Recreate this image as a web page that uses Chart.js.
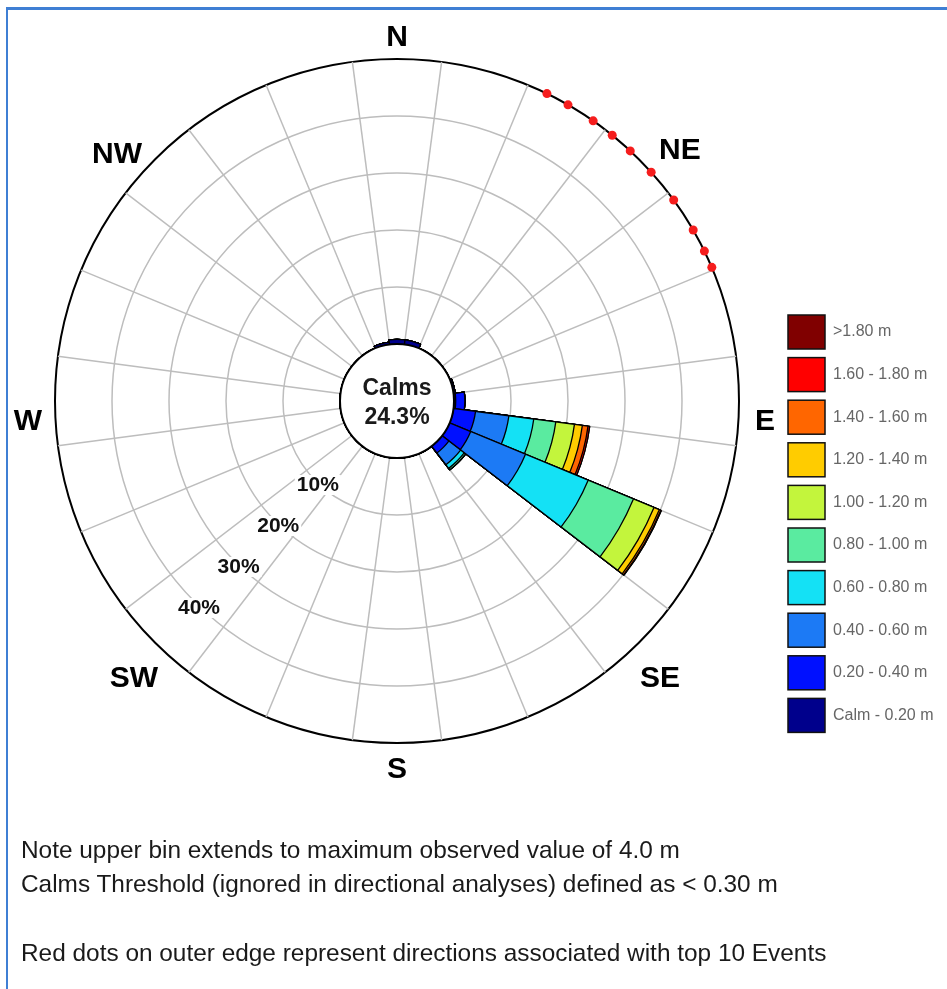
<!DOCTYPE html>
<html>
<head>
<meta charset="utf-8">
<script src="https://cdn.jsdelivr.net/npm/chart.js@4.4.1/dist/chart.umd.min.js"></script>
<style>
  html, body { margin: 0; padding: 0; background: #fff; }
  body { width: 947px; height: 989px; position: relative; overflow: hidden; font-family: 'Liberation Sans', Arial, sans-serif; }
  .frame { position: absolute; left: 6px; top: 7px; right: -10px; bottom: -10px; border-top: 3px solid #3f7fd4; border-left: 2px solid #3f7fd4; }
  #wrap { position: absolute; left: 0; top: 0; width: 947px; height: 989px; }
  .note { position: absolute; left: 21px; font-size: 24.4px; color: #1a1a1a; white-space: nowrap; }
</style>
</head>
<body>
<div class="frame"></div>
<div id="wrap"><canvas id="rose"></canvas></div>
<div class="note" style="top:836px">Note upper bin extends to maximum observed value of 4.0 m</div>
<div class="note" style="top:870px">Calms Threshold (ignored in directional analyses) defined as &lt; 0.30 m</div>
<div class="note" style="top:939px">Red dots on outer edge represent directions associated with top 10 Events</div>
<script>
// direction bins, 15 degrees wide, centred on these bearings
const directions = [0, 15, 30, 45, 60, 75, 90, 105, 120, 135, 150, 165,
                    180, 195, 210, 225, 240, 255, 270, 285, 300, 315, 330, 345];

const binLabels = ['Calm - 0.20 m', '0.20 - 0.40 m', '0.40 - 0.60 m', '0.60 - 0.80 m', '0.80 - 1.00 m',
                   '1.00 - 1.20 m', '1.20 - 1.40 m', '1.40 - 1.60 m', '1.60 - 1.80 m', '>1.80 m'];
const binColors = ['#00008c', '#0010ff', '#1c7af5', '#14e1f5', '#5aeba0',
                   '#c3f53c', '#ffcc00', '#ff6600', '#ff0000', '#800000'];

// percentage of records in each direction, one array per height bin
const hCalm020 = [0.8, 0.8, 0, 0, 0, 0.3, 0.3, 0, 0, 0, 0, 0, 0, 0, 0, 0, 0, 0, 0, 0, 0, 0, 0, 0.4];
const h020_040 = [0, 0, 0, 0, 0, 0, 1.6, 3.9, 4.0, 1.5, 0, 0, 0, 0, 0, 0, 0, 0, 0, 0, 0, 0, 0, 0];
const h040_060 = [0, 0, 0, 0, 0, 0, 0, 5.9, 10.4, 2.6, 0, 0, 0, 0, 0, 0, 0, 0, 0, 0, 0, 0, 0, 0];
const h060_080 = [0, 0, 0, 0, 0, 0, 0, 4.4, 11.9, 0.8, 0, 0, 0, 0, 0, 0, 0, 0, 0, 0, 0, 0, 0, 0];
const h080_100 = [0, 0, 0, 0, 0, 0, 0, 3.9, 8.6, 0.3, 0, 0, 0, 0, 0, 0, 0, 0, 0, 0, 0, 0, 0, 0];
const h100_120 = [0, 0, 0, 0, 0, 0, 0, 3.3, 3.9, 0, 0, 0, 0, 0, 0, 0, 0, 0, 0, 0, 0, 0, 0, 0];
const h120_140 = [0, 0, 0, 0, 0, 0, 0, 1.4, 1.0, 0, 0, 0, 0, 0, 0, 0, 0, 0, 0, 0, 0, 0, 0, 0];
const h140_160 = [0, 0, 0, 0, 0, 0, 0, 1.0, 0.3, 0, 0, 0, 0, 0, 0, 0, 0, 0, 0, 0, 0, 0, 0, 0];
const h160_180 = [0, 0, 0, 0, 0, 0, 0, 0.3, 0.1, 0, 0, 0, 0, 0, 0, 0, 0, 0, 0, 0, 0, 0, 0, 0];
const h180up   = [0, 0, 0, 0, 0, 0, 0, 0, 0, 0, 0, 0, 0, 0, 0, 0, 0, 0, 0, 0, 0, 0, 0, 0];

const calmsPct = 24.3;
const ringTicks = [10, 20, 30, 40];
const compassNames = ['N', 'NE', 'E', 'SE', 'S', 'SW', 'W', 'NW'];
const compassBearings = [0, 45, 90, 135, 180, 225, 270, 315];
// bearings of the top 10 events (red dots)
const topEventBearings = [26, 30, 35, 39, 43, 48, 54, 60, 64, 67];

// label placement (style only)
const compassPad = [21, 58, 26, 30, 27, 30, 27, 54];
const compassShift = [0, 33, 21, 15, 0, 15, 21, 34];
const tickLabelBearing = 224;

const FONT = "'Liberation Sans', Arial, sans-serif";

// stack the bins: each dataset holds the running total up to its bin
const bins = [hCalm020, h020_040, h040_060, h060_080, h080_100, h100_120, h120_140, h140_160, h160_180, h180up];
const datasets = [];
let running = directions.map(() => 0);
bins.forEach((bin, k) => {
    running = running.map((v, i) => v + bin[i]);
    datasets.push({
        label: binLabels[k],
        data: running.slice(),
        backgroundColor: binColors[k],
        borderColor: '#000',
        borderWidth: 1.3
    });
});

const roseDecor = {
    id: 'roseDecor',
    afterDatasetsDraw(chart) {
        const ctx = chart.ctx;
        const scale = chart.scales.r;
        const cx = scale.xCenter, cy = scale.yCenter;
        const at = (b, d) => {
            const a = (b - 90) * Math.PI / 180;
            return { x: cx + d * Math.cos(a), y: cy + d * Math.sin(a) };
        };
        const r0 = scale.getDistanceFromCenterForValue(0);
        const rMax = scale.getDistanceFromCenterForValue(scale.max);

        ctx.save();
        // calms circle
        ctx.beginPath();
        ctx.arc(cx, cy, r0, 0, Math.PI * 2);
        ctx.fillStyle = '#fff';
        ctx.fill();
        ctx.lineWidth = 2;
        ctx.strokeStyle = '#000';
        ctx.stroke();

        ctx.fillStyle = '#1a1a1a';
        ctx.textAlign = 'center';
        ctx.textBaseline = 'middle';
        ctx.font = 'bold 23px ' + FONT;
        ctx.fillText('Calms', cx, cy - 12);
        ctx.fillText(calmsPct.toFixed(1) + '%', cx, cy + 17);

        // ring labels
        ctx.font = 'bold 21px ' + FONT;
        ringTicks.forEach(v => {
            const p = at(tickLabelBearing, scale.getDistanceFromCenterForValue(v));
            const txt = v + '%';
            const w = ctx.measureText(txt).width;
            ctx.fillStyle = '#fff';
            ctx.fillRect(p.x - w / 2 - 2, p.y - 8, w + 4, 20);
            ctx.fillStyle = '#111';
            ctx.fillText(txt, p.x, p.y + 2);
        });

        // compass labels
        ctx.font = 'bold 30px ' + FONT;
        ctx.fillStyle = '#000';
        compassNames.forEach((name, i) => {
            const p = at(compassBearings[i], rMax + compassPad[i]);
            ctx.fillText(name, p.x, p.y + compassShift[i]);
        });

        // top events
        ctx.fillStyle = '#f51d1d';
        topEventBearings.forEach(b => {
            const p = at(b, rMax);
            ctx.beginPath();
            ctx.arc(p.x, p.y, 4.5, 0, Math.PI * 2);
            ctx.fill();
        });

        // legend, largest bin on top
        const lx = 788, ly = 315, step = 42.6, bw = 37, bh = 34;
        ctx.font = '16px ' + FONT;
        ctx.textAlign = 'left';
        const order = chart.data.datasets.slice().reverse();
        order.forEach((ds, i) => {
            const y = ly + i * step;
            ctx.fillStyle = ds.backgroundColor;
            ctx.fillRect(lx, y, bw, bh);
            ctx.lineWidth = 1.5;
            ctx.strokeStyle = '#111';
            ctx.strokeRect(lx, y, bw, bh);
            ctx.fillStyle = '#666';
            ctx.fillText(ds.label, lx + bw + 8, y + bh / 2);
        });
        ctx.restore();
    }
};

new Chart(document.getElementById('rose'), {
    type: 'polarArea',
    data: { labels: directions.map(d => d + '°'), datasets: datasets },
    options: {
        responsive: true,
        maintainAspectRatio: false,
        animation: false,
        events: [],
        layout: { padding: { left: 55, top: 59, right: 208, bottom: 246 } },
        plugins: { legend: { display: false }, tooltip: { enabled: false } },
        scales: {
            r: {
                min: -10,
                max: 50,
                startAngle: -7.5,
                ticks: { display: false, stepSize: 10 },
                grid: {
                    circular: true,
                    color: c => c.tick.value === 50 ? '#000' : (c.tick.value > 0 ? '#bdbdbd' : 'rgba(0,0,0,0)'),
                    lineWidth: c => c.tick.value === 50 ? 2 : 1.5
                },
                angleLines: { display: true, color: '#bdbdbd', lineWidth: 1.5 },
                pointLabels: { display: false }
            }
        }
    },
    plugins: [roseDecor]
});
</script>
</body>
</html>
